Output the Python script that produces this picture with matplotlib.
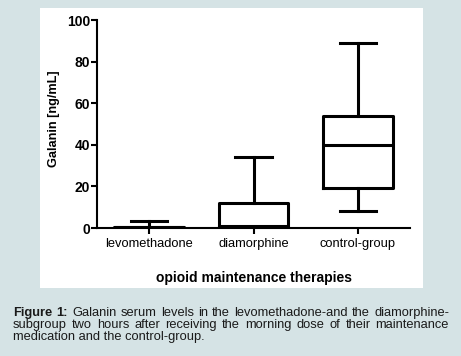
import matplotlib
matplotlib.use("Agg")
import matplotlib.pyplot as plt
from matplotlib.patches import Rectangle

plt.rcParams["font.family"] = ["Liberation Sans", "DejaVu Sans"]

# -------------------------------------------------------------------
# DATA
# -------------------------------------------------------------------
groups = ["levomethadone", "diamorphine", "control-group"]
whisker_low = [0.0, 0.0, 8.2]
q1 = [0.2, 0.6, 19.0]
median = [0.4, 1.2, 40.0]
q3 = [0.6, 12.2, 54.0]
whisker_high = [3.6, 34.0, 89.0]

y_ticks = [0, 20, 40, 60, 80, 100]

caption_lines = [
    "Galanin serum levels in the levomethadone-and the diamorphine-",
    "subgroup two hours after receiving the morning dose of their maintenance",
    "medication and the control-group.",
]

# -------------------------------------------------------------------
# FIGURE
# -------------------------------------------------------------------
W, H = 461, 356
fig = plt.figure(figsize=(W / 100, H / 100), dpi=100)
fig.patch.set_facecolor("#d5e3e5")

# white panel behind the chart
fig.patches.append(Rectangle((40 / W, 1 - 288 / H), 383 / W, 280 / H,
                             transform=fig.transFigure, facecolor="white",
                             edgecolor="none", zorder=-10))

ax = fig.add_axes([97 / W, 1 - 228 / H, 313 / W, 208 / H])
ax.set_facecolor("none")

stats = []
for i, g in enumerate(groups):
    stats.append({"label": g, "whislo": whisker_low[i], "q1": q1[i],
                  "med": median[i], "q3": q3[i], "whishi": whisker_high[i],
                  "fliers": []})

lw = 2.2
ax.bxp(stats, positions=range(len(groups)), widths=0.67, capwidths=0.35,
       showfliers=False,
       boxprops=dict(color="black", linewidth=lw),
       medianprops=dict(color="black", linewidth=lw),
       whiskerprops=dict(color="black", linewidth=lw),
       capprops=dict(color="black", linewidth=lw))

ax.set_xlim(-0.5, 2.5)
ax.set_ylim(0, 100)
ax.set_yticks(y_ticks)
ax.set_xticks(range(len(groups)))
ax.set_xticklabels(groups, fontsize=9.3)
for lab in ax.get_yticklabels():
    lab.set_fontweight("bold")
    lab.set_fontsize(10)

for side in ["top", "right"]:
    ax.spines[side].set_visible(False)
for side in ["left", "bottom"]:
    ax.spines[side].set_linewidth(1.5)
ax.tick_params(axis="y", direction="out", length=4, width=1.5, pad=1)
ax.tick_params(axis="x", direction="out", length=4, width=1.5, pad=3)

ax.set_ylabel("Galanin [ng/mL]", fontsize=9.2, fontweight="bold")
ax.yaxis.set_label_coords(-0.118, 0.526)
ax.set_xlabel("opioid maintenance therapies", fontsize=10,
              fontweight="bold", labelpad=15)

# -------------------------------------------------------------------
# CAPTION (justified, one text per word, baselines snapped to pixels)
# -------------------------------------------------------------------
cap_left, cap_right = 13 / W, 449 / W
cap_base = [316, 328, 340]
cap_size = 9.3
cap_color = "#1a1a1a"

renderer = fig.canvas.get_renderer()
for li, line in enumerate(caption_lines):
    y = (H - cap_base[li]) / H
    if li == len(caption_lines) - 1:
        # last line is left aligned
        fig.text(cap_left, y, line, fontsize=cap_size, color=cap_color,
                 va="baseline", ha="left")
        continue
    words = [(w, "normal") for w in line.split(" ")]
    if li == 0:
        words = [("Figure", "bold"), ("1:", "bold")] + words
    texts = []
    for w, weight in words:
        t = fig.text(0, y, w, fontsize=cap_size, fontweight=weight,
                     color=cap_color, va="baseline", ha="left")
        texts.append(t)
    widths = [t.get_window_extent(renderer).width / W for t in texts]
    gap = (cap_right - cap_left - sum(widths)) / (len(texts) - 1)
    x = cap_left
    for t, wd in zip(texts, widths):
        t.set_x(x)
        x += wd + gap

fig.savefig("out.png", dpi=100, facecolor=fig.get_facecolor())
